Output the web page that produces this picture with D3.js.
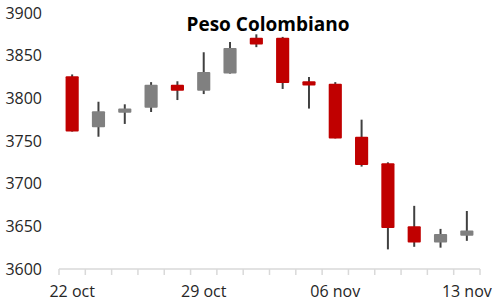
<html>
<head>
<script src="https://d3js.org/d3.v7.min.js"></script>
<style>
body { margin: 0; background: #fff; }
text { font-family: "Open Sans", sans-serif; }
</style>
</head>
<body>
<svg id="main_vis" width="502" height="307"></svg>
<script>
// trading days and OHLC
var dates  = ["22 oct","23 oct","26 oct","27 oct","28 oct","29 oct","30 oct",
              "03 nov","04 nov","05 nov","06 nov","09 nov","10 nov","11 nov","12 nov","13 nov"];
var opens  = [3826, 3766, 3783, 3789, 3816, 3809, 3829, 3871, 3871, 3820, 3817, 3755, 3724, 3650, 3631, 3639];
var highs  = [3828, 3796, 3793, 3819, 3820, 3854, 3866, 3875, 3872, 3825, 3819, 3775, 3725, 3674, 3647, 3668];
var lows   = [3761, 3755, 3770, 3784, 3798, 3805, 3829, 3860, 3811, 3788, 3753, 3720, 3623, 3626, 3625, 3633];
var closes = [3761, 3785, 3788, 3816, 3809, 3831, 3859, 3863, 3818, 3815, 3753, 3722, 3648, 3631, 3641, 3645];
var yTicks = [3600, 3650, 3700, 3750, 3800, 3850, 3900];
var xLabels = ["22 oct", "29 oct", "06 nov", "13 nov"];

var svg = d3.select("#main_vis");

var x = d3.scaleBand()
  .domain(dates)
  .range([59, 480])
  .paddingInner(0.5)
  .paddingOuter(0.25);

var y = d3.scaleLinear()
  .domain([3600, 3900])
  .range([269, 13]);

// y labels, no axis line
var yAxis = svg.append("g")
  .attr("transform", "translate(44,0)")
  .call(d3.axisLeft(y).tickValues(yTicks).tickFormat(d3.format("d")).tickSize(0).tickPadding(2));
yAxis.select(".domain").remove();
yAxis.selectAll("text")
  .attr("font-size", 16)
  .attr("fill", "#262626")
  .style("font-family", "Open Sans, sans-serif");

// x axis: line + ticks between categories
var step = x.step();
svg.append("line")
  .attr("x1", 59).attr("x2", 480)
  .attr("y1", y(3600)).attr("y2", y(3600))
  .attr("stroke", "#d9d9d9").attr("stroke-width", 1.5);

svg.selectAll(".xtick")
  .data(dates.concat(["end"]))
  .enter().append("line")
  .attr("class", "xtick")
  .attr("x1", function(d, i) { return 59 + i * step; })
  .attr("x2", function(d, i) { return 59 + i * step; })
  .attr("y1", y(3600)).attr("y2", y(3600) + 6)
  .attr("stroke", "#d9d9d9").attr("stroke-width", 1.5);

var xAxis = svg.append("g")
  .attr("transform", "translate(0," + y(3600) + ")")
  .call(d3.axisBottom(x).tickValues(xLabels).tickSize(0).tickPadding(17));
xAxis.select(".domain").remove();
xAxis.selectAll("text")
  .attr("font-size", 16)
  .attr("fill", "#262626")
  .style("font-family", "Open Sans, sans-serif");

// candles
var candles = svg.selectAll(".candle")
  .data(dates)
  .enter().append("g")
  .attr("class", "candle");

candles.append("line")
  .attr("x1", function(d) { return x(d) + x.bandwidth() / 2; })
  .attr("x2", function(d) { return x(d) + x.bandwidth() / 2; })
  .attr("y1", function(d, i) { return y(highs[i]); })
  .attr("y2", function(d, i) { return y(lows[i]); })
  .attr("stroke", "#404040")
  .attr("stroke-width", 2);

candles.append("rect")
  .attr("x", function(d) { return x(d); })
  .attr("width", x.bandwidth())
  .attr("y", function(d, i) { return y(Math.max(opens[i], closes[i])); })
  .attr("height", function(d, i) { return Math.max(1, Math.abs(y(opens[i]) - y(closes[i]))); })
  .attr("rx", 1)
  .attr("fill", function(d, i) { return closes[i] < opens[i] ? "#c00000" : "#808080"; });

// title
svg.append("text")
  .attr("x", 268)
  .attr("y", 31)
  .attr("text-anchor", "middle")
  .attr("font-size", 19)
  .attr("font-weight", "bold")
  .attr("fill", "#000")
  .text("Peso Colombiano");
</script>
</body>
</html>
